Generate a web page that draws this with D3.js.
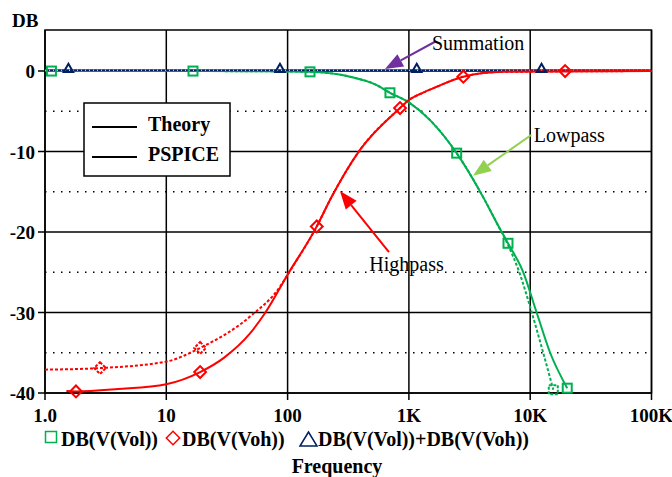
<!DOCTYPE html>
<html>
<head>
<meta charset="utf-8">
<script src="https://cdn.jsdelivr.net/npm/d3@7"></script>
<style>
	body { margin: 0; background: #fff; }
	svg { display: block; font-family: "Liberation Serif", "Times New Roman", serif; }
	.tick-label { font-weight: bold; font-size: 19px; }
</style>
</head>
<body>
<div class="bode-chart"></div>
<script>
// frequencies in Hz, gains in dB
var lowFreq     = [1, 10, 50, 100, 153, 327, 543, 698, 1020, 1493, 2476, 4073, 5400, 6560, 8770, 11300, 14600, 20200];
var lowTheory   = [0, 0, -0.02, -0.05, -0.1, -0.7, -1.74, -2.7, -3.98, -6.1, -10.2, -15.6, -19.1, -21.4, -25.0, -30.0, -35.0, -39.4];
var lowFreqSim  = [1, 10, 50, 100, 153, 327, 543, 698, 1020, 1493, 2476, 4073, 5400, 6560, 8130, 10300, 12800, 15500];
var lowSpice    = [0, 0, -0.02, -0.05, -0.1, -0.7, -1.74, -2.7, -3.98, -6.1, -10.2, -15.6, -19.1, -21.6, -25.0, -30.0, -35.0, -39.6];

var highFreq    = [1.5, 1.8, 4, 10, 19, 30, 49, 65, 100, 174, 224, 395, 845, 1000, 1300, 1694, 2810, 6000, 100000];
var highTheory  = [-39.75, -39.8, -39.5, -38.9, -37.4, -35.6, -32.6, -30.1, -25.3, -19.3, -16.0, -9.8, -4.6, -3.6, -2.7, -1.95, -0.7, -0.1, 0];
var highFreqSim = [1, 2.84, 10, 19, 49, 86.5, 100, 174, 224, 395, 845, 1000, 1300, 1694, 2810, 6000, 100000];
var highSpice   = [-37.1, -36.9, -36.1, -34.4, -30.5, -26.8, -25.3, -19.3, -16.0, -9.8, -4.6, -3.6, -2.7, -1.95, -0.7, -0.1, 0];

var sumFreq = [1, 100000];
var sumDb   = [0.1, 0.1];

// trace markers: [freq, dB, on dotted trace]
var squareMarks   = [[1.13, 0, 0], [16.6, 0, 0], [153, -0.1, 0], [698, -2.7, 0], [2476, -10.2, 0], [6560, -21.4, 0], [15500, -39.6, 1], [20200, -39.4, 0]];
var diamondMarks  = [[1.8, -39.8, 0], [2.84, -36.9, 1], [19, -37.4, 0], [19, -34.4, 1], [174, -19.3, 0], [845, -4.6, 0], [2810, -0.7, 0], [19400, 0, 0]];
var triangleMarks = [[1.56, 0.1], [86.5, 0.1], [1160, 0.1], [12400, 0.1]];

var xTicks = [1, 10, 100, 1000, 10000, 100000];
var xTickLabels = ["1.0", "10", "100", "1K", "10K", "100K"];
var yTicks = [0, -10, -20, -30, -40];
var yMinor = [-5, -15, -25, -35];

// annotations: label, text anchor [freq, dB], arrow from, arrow tip, colour
var notes = [
	{text: "Summation", at: [1550, 2.6], from: [1641, 3.64], to: [635, 0.25], color: "#7030a0"},
	{text: "Lowpass", at: [10700, -8.8], from: [10200, -7.95], to: [3377, -13.0], color: "#92d050"},
	{text: "Highpass", at: [472, -24.9], from: [685, -22.5], to: [270, -14.9], color: "#ff0000"}
];

var GREEN = "#00b050", RED = "#ff0000", NAVY = "#002060";

function drawChart() {
	var sel = d3.select(".bode-chart").html("");
	var width = 672, height = 477;
	var svg = sel.append("svg").attr("width", width).attr("height", height);

	var x = d3.scaleLog().domain([1, 100000]).range([45, 651.5]);
	var y = d3.scaleLinear().domain([-40, 5.1]).range([393, 30]);

	// minor dotted grid
	svg.selectAll(".minor").data(yMinor).enter().append("line")
		.attr("x1", x(1)).attr("x2", x(100000))
		.attr("y1", d => y(d)).attr("y2", d => y(d))
		.attr("stroke", "#000").attr("stroke-width", 1.5)
		.attr("stroke-dasharray", "1.5,6.5");

	// major grid
	svg.selectAll(".hgrid").data(yTicks).enter().append("line")
		.attr("x1", x(1) - 7).attr("x2", x(100000))
		.attr("y1", d => y(d)).attr("y2", d => y(d))
		.attr("stroke", "#000").attr("stroke-width", 1.5);
	svg.selectAll(".vgrid").data(xTicks).enter().append("line")
		.attr("x1", d => x(d)).attr("x2", d => x(d))
		.attr("y1", y(5.1)).attr("y2", y(-40) + 7)
		.attr("stroke", "#000").attr("stroke-width", 1.5);
	svg.append("rect")
		.attr("x", x(1)).attr("y", y(5.1))
		.attr("width", x(100000) - x(1)).attr("height", y(-40) - y(5.1))
		.attr("fill", "none").attr("stroke", "#000").attr("stroke-width", 1.5);

	// tick labels
	svg.selectAll(".ylab").data(yTicks).enter().append("text")
		.attr("class", "tick-label")
		.attr("x", 35).attr("y", d => y(d) + 7)
		.attr("text-anchor", "end")
		.text(d => d);
	svg.selectAll(".xlab").data(xTicks).enter().append("text")
		.attr("class", "tick-label")
		.attr("x", d => x(d)).attr("y", 422)
		.attr("text-anchor", "middle")
		.text((d, i) => xTickLabels[i]);
	svg.append("text").attr("class", "tick-label")
		.attr("x", 12).attr("y", 27).text("DB");

	var line = d3.line()
		.x(d => x(d[0]))
		.y(d => y(d[1]))
		.curve(d3.curveMonotoneX);

	function trace(freqs, vals, color, dotted) {
		svg.append("path")
			.datum(d3.zip(freqs, vals))
			.attr("d", line)
			.attr("fill", "none")
			.attr("stroke", color)
			.attr("stroke-width", 2)
			.attr("stroke-dasharray", dotted ? "3,2" : null);
	}

	trace(lowFreq, lowTheory, GREEN, false);
	trace(lowFreqSim, lowSpice, GREEN, true);
	trace(sumFreq, sumDb, NAVY, false);
	svg.append("path")
		.datum(d3.zip(sumFreq, sumDb))
		.attr("d", line)
		.attr("fill", "none").attr("stroke", "#fff")
		.attr("stroke-width", 1).attr("stroke-dasharray", "1,3");
	trace(highFreq, highTheory, RED, false);
	trace(highFreqSim, highSpice, RED, true);

	// markers
	svg.selectAll(".sq").data(squareMarks).enter().append("rect")
		.attr("x", d => x(d[0]) - 4.5).attr("y", d => y(d[1]) - 4.5)
		.attr("width", 9).attr("height", 9)
		.attr("fill", "none").attr("stroke", GREEN).attr("stroke-width", 2)
		.attr("stroke-dasharray", d => d[2] ? "3,1.5" : null);
	svg.selectAll(".dm").data(diamondMarks).enter().append("path")
		.attr("d", d3.symbol(d3.symbolSquare, 70))
		.attr("transform", d => "translate(" + x(d[0]) + "," + y(d[1]) + ") rotate(45)")
		.attr("fill", "none").attr("stroke", RED).attr("stroke-width", 2)
		.attr("stroke-dasharray", d => d[2] ? "3,1.5" : null);
	svg.selectAll(".tr").data(triangleMarks).enter().append("path")
		.attr("d", d3.symbol(d3.symbolTriangle, 38))
		.attr("transform", d => "translate(" + x(d[0]) + "," + (y(d[1]) - 1) + ")")
		.attr("fill", "none").attr("stroke", NAVY).attr("stroke-width", 2);

	// annotations with arrows
	notes.forEach(function(n) {
		var x0 = x(n.from[0]), y0 = y(n.from[1]), x1 = x(n.to[0]), y1 = y(n.to[1]);
		var ang = Math.atan2(y1 - y0, x1 - x0);
		var len = 18, half = 7;
		var bx = x1 - len * Math.cos(ang), by = y1 - len * Math.sin(ang);
		svg.append("line")
			.attr("x1", x0).attr("y1", y0).attr("x2", bx).attr("y2", by)
			.attr("stroke", n.color).attr("stroke-width", 2);
		svg.append("polygon")
			.attr("points", [
				[x1, y1],
				[bx + half * Math.sin(ang), by - half * Math.cos(ang)],
				[bx - half * Math.sin(ang), by + half * Math.cos(ang)]
			].map(p => p.join(",")).join(" "))
			.attr("fill", n.color);
		svg.append("text")
			.attr("x", x(n.at[0])).attr("y", y(n.at[1]))
			.style("font-size", "20px")
			.text(n.text);
	});

	// Theory / PSPICE legend box
	var lg = svg.append("g").attr("transform", "translate(84,103)");
	lg.append("rect").attr("width", 146).attr("height", 73)
		.attr("fill", "#fff").attr("stroke", "#000").attr("stroke-width", 1.5);
	["Theory", "PSPICE"].forEach(function(t, i) {
		lg.append("line").attr("x1", 8).attr("x2", 53)
			.attr("y1", 24 + i * 30).attr("y2", 24 + i * 30)
			.attr("stroke", "#000").attr("stroke-width", 2);
		lg.append("text").attr("x", 64).attr("y", 27 + i * 30 + 0.5)
			.style("font-weight", "bold").style("font-size", "20px")
			.text(t);
	});

	// trace legend under the axis
	var bl = svg.append("g").style("font-weight", "bold").style("font-size", "20px");
	bl.append("rect").attr("x", 45.5).attr("y", 431.5).attr("width", 11).attr("height", 11)
		.attr("fill", "none").attr("stroke", GREEN).attr("stroke-width", 1.5);
	bl.append("text").attr("x", 61).attr("y", 446).text("DB(V(Vol))");
	bl.append("path").attr("d", d3.symbol(d3.symbolSquare, 90))
		.attr("transform", "translate(173,438) rotate(45)")
		.attr("fill", "none").attr("stroke", RED).attr("stroke-width", 1.5);
	bl.append("text").attr("x", 182).attr("y", 446).text("DB(V(Voh))");
	bl.append("path").attr("d", "M300,446 L308.5,432 L317,446 Z")
		.attr("fill", "none").attr("stroke", NAVY).attr("stroke-width", 1.5);
	bl.append("text").attr("x", 318).attr("y", 446).text("DB(V(Vol))+DB(V(Voh))");

	svg.append("text").attr("x", 337).attr("y", 473)
		.attr("text-anchor", "middle")
		.style("font-weight", "bold").style("font-size", "20px")
		.text("Frequency");
}

drawChart();
</script>
</body>
</html>
